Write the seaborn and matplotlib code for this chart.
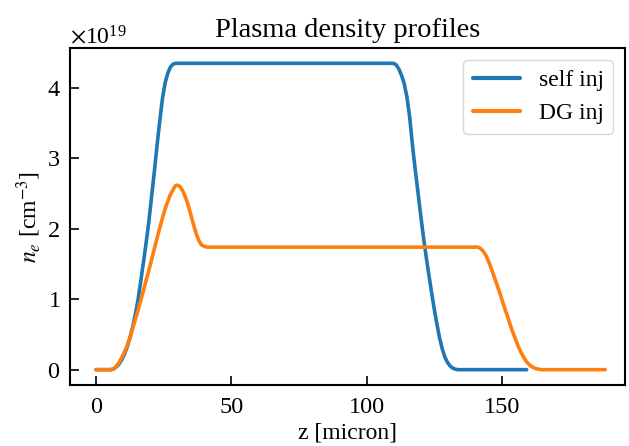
import numpy as np
import pandas as pd
import matplotlib
matplotlib.use("Agg")
import matplotlib.pyplot as plt
import matplotlib.ticker as mticker
import seaborn as sns

# Longitudinal position (micron) and electron density (10^19 cm^-3)
self_z = [0.0, 5.5, 6.5, 7.5, 8.5, 9.5, 10.5, 11.5, 12.5, 13.5, 14.5, 15.5,
          16.5, 17.5, 18.5, 19.5, 20.5, 21.5, 22.5, 23.5, 24.5, 25.5, 26.5,
          27.5, 28.5, 29.5,
          109.8, 110.8, 111.8, 112.8, 113.8, 114.8, 115.8, 116.8, 117.8,
          118.8, 119.8, 120.8, 121.8, 122.8, 123.8, 124.8, 125.8, 126.8,
          127.8, 128.8, 129.8, 130.8, 131.8, 132.8, 133.7, 159.0]
self_n = [0.0, 0.0, 0.01, 0.04, 0.08, 0.14, 0.22, 0.32, 0.45, 0.60, 0.78, 0.99,
          1.25, 1.52, 1.80, 2.10, 2.45, 2.80, 3.17, 3.52, 3.84, 4.07, 4.21,
          4.30, 4.34, 4.35,
          4.35, 4.33, 4.27, 4.18, 4.06, 3.87, 3.59, 3.20, 2.86,
          2.54, 2.22, 1.91, 1.63, 1.37, 1.12, 0.88, 0.66, 0.46,
          0.30, 0.18, 0.10, 0.05, 0.02, 0.005, 0.0, 0.0]

dg_z = [0.0, 5.5, 6.5, 7.5, 8.5, 9.5, 10.5, 11.5, 12.5, 13.5, 14.5, 15.5,
        16.5, 17.5, 18.5, 19.5, 20.5, 21.5, 22.5, 23.5, 24.5, 25.5, 26.5,
        27.5, 28.5, 29.3, 30.0, 31.0, 32.0, 33.0, 34.0, 35.0, 36.0, 37.0,
        38.0, 39.0, 40.0, 41.0,
        141.0, 142.0, 143.0, 144.0, 145.0, 146.0, 147.0, 148.0, 149.0,
        150.0, 151.0, 152.0, 153.0, 154.0, 155.0, 156.0, 157.0, 158.0,
        159.0, 160.0, 161.0, 162.0, 163.0, 164.5, 188.0]
dg_n = [0.0, 0.0, 0.01, 0.05, 0.10, 0.17, 0.25, 0.34, 0.45, 0.58, 0.71, 0.84,
        0.98, 1.12, 1.27, 1.41, 1.56, 1.71, 1.86, 2.01, 2.15, 2.28, 2.39,
        2.49, 2.56, 2.61, 2.62, 2.60, 2.54, 2.45, 2.34, 2.20, 2.06, 1.93,
        1.83, 1.77, 1.75, 1.74,
        1.74, 1.72, 1.68, 1.62, 1.53, 1.43, 1.32, 1.21, 1.10,
        0.98, 0.86, 0.75, 0.63, 0.52, 0.42, 0.32, 0.24, 0.17,
        0.11, 0.07, 0.04, 0.02, 0.01, 0.0, 0.0]

labels = ["self inj", "DG inj"]
scale = 1e19

df = pd.concat([
    pd.DataFrame({"z": self_z, "ne": np.array(self_n) * scale, "case": labels[0]}),
    pd.DataFrame({"z": dg_z, "ne": np.array(dg_n) * scale, "case": labels[1]}),
], ignore_index=True)

sns.set_style("ticks")
plt.rcParams["font.family"] = ["Liberation Serif", "DejaVu Serif"]
plt.rcParams["mathtext.fontset"] = "stix"
for key in ["text.color", "axes.labelcolor", "xtick.color", "ytick.color",
            "axes.edgecolor"]:
    plt.rcParams[key] = "black"

fig, ax = plt.subplots(figsize=(6.29, 4.46), dpi=100)
fig.subplots_adjust(left=0.1113, right=0.9936, top=0.8924, bottom=0.1368)

sns.lineplot(data=df, x="z", y="ne", hue="case", hue_order=labels,
             palette=["#1f77b4", "#ff7f0e"], estimator=None, sort=False,
             linewidth=2.6, ax=ax)

ax.set_xlim(-9.6, 195.3)
ax.set_xticks([0, 50, 100, 150])
ax.set_yticks(np.arange(0, 5) * scale)
fmt = mticker.ScalarFormatter(useMathText=True)
ax.yaxis.set_major_formatter(fmt)
for side in ["top", "right", "left", "bottom"]:
    ax.spines[side].set_visible(True)
    ax.spines[side].set_linewidth(1.5)
    ax.spines[side].set_color("black")
ax.tick_params(direction="in", length=6.5, width=1.2, labelsize=17.5,
               top=False, right=False, colors="black")
ax.tick_params(axis="x", pad=9)
ax.tick_params(axis="y", pad=7)
ax.yaxis.get_offset_text().set_fontsize(17)

ax.set_title("Plasma density profiles", fontsize=20.5, pad=8)
ax.set_xlabel("z [micron]", fontsize=17, labelpad=3)
ax.set_ylabel(r"$n_e$ [cm$^{-3}$]", fontsize=17, labelpad=2.5)

leg = ax.legend(loc="upper right", fontsize=17, title=None)
for line in leg.get_lines():
    line.set_linewidth(3)

fig.savefig("out.png", dpi=100)
